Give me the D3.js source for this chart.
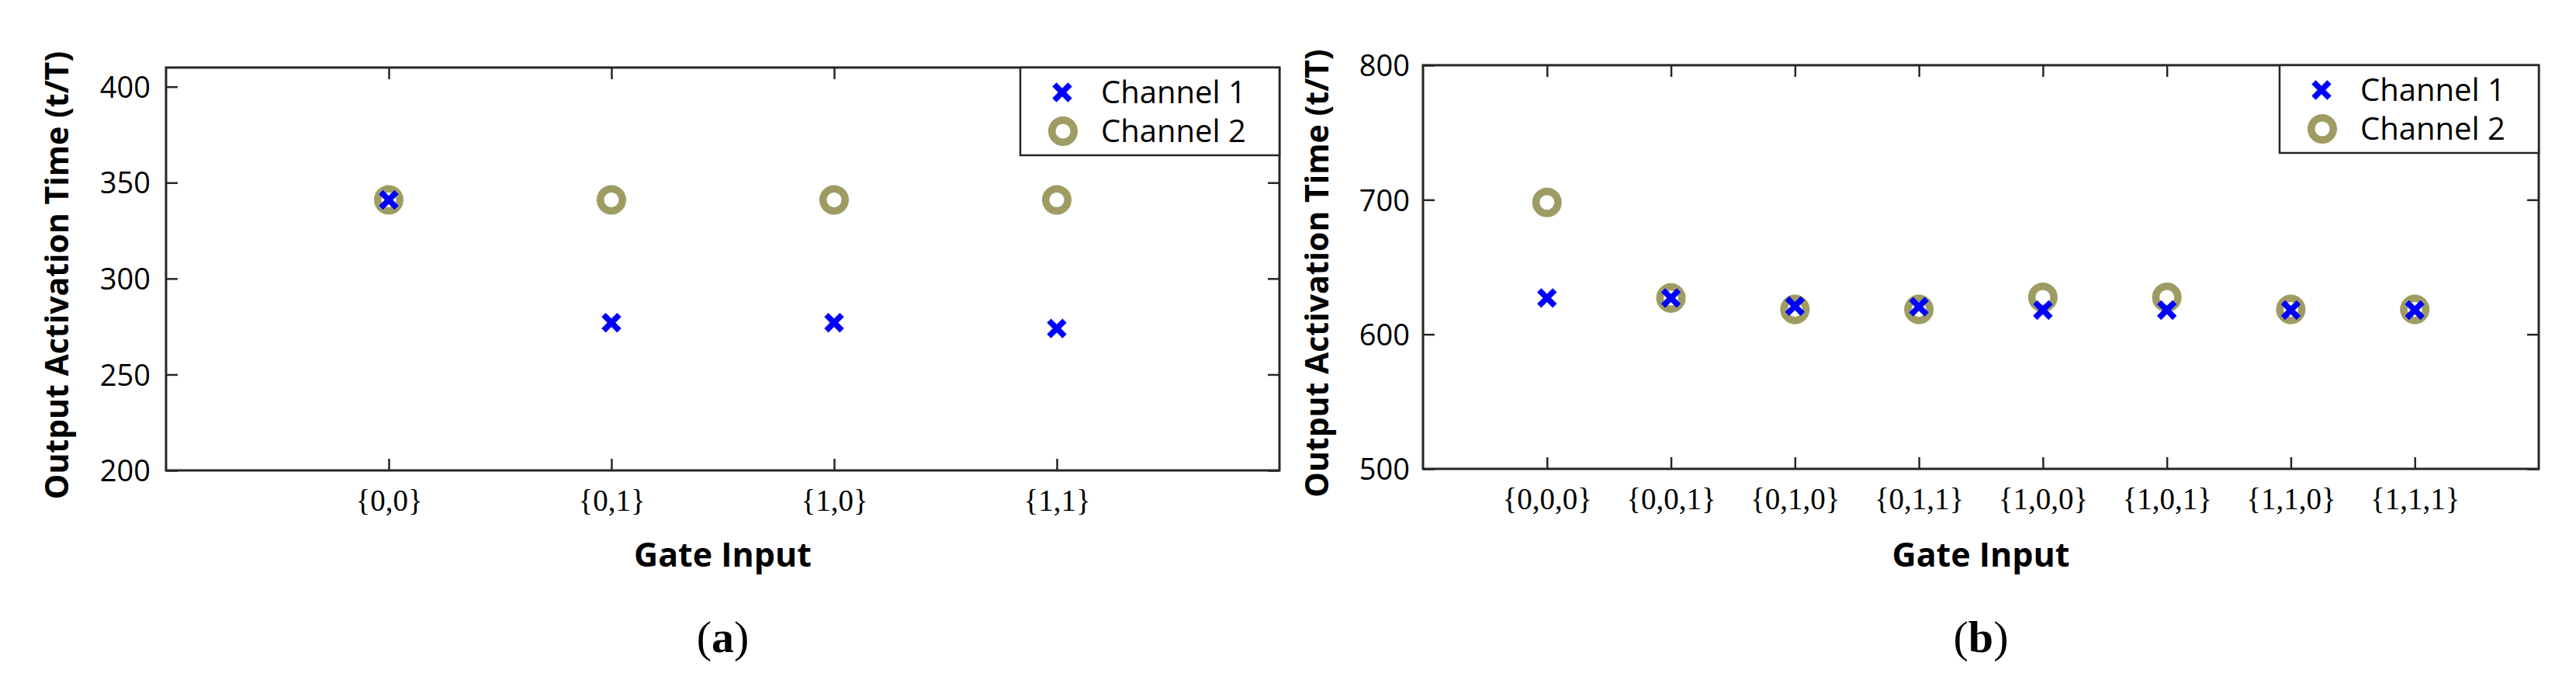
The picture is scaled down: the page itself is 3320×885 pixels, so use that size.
<!DOCTYPE html>
<html>
<head>
<meta charset="utf-8">
<script src="https://cdn.jsdelivr.net/npm/d3@7"></script>
<style>
  body { margin: 0; background: #fff; }
  text { fill: #000; }
</style>
</head>
<body>
<div id="chart"></div>
<script>
// panel (a): two-input gate
var catsA = ["{0,0}", "{0,1}", "{1,0}", "{1,1}"];
var ch1A = [341, 277, 277, 274];
var ch2A = [341, 341, 341, 341];
var ticksA = [200, 250, 300, 350, 400];

// panel (b): three-input gate
var catsB = ["{0,0,0}", "{0,0,1}", "{0,1,0}", "{0,1,1}", "{1,0,0}", "{1,0,1}", "{1,1,0}", "{1,1,1}"];
var ch1B = [627, 627, 621, 620.5, 618, 618, 618, 618];
var ch2B = [698, 627, 618.5, 618.5, 627.5, 627.5, 618.5, 618.5];
var ticksB = [500, 600, 700, 800];

var seriesNames = ["Channel 1", "Channel 2"];

var width = 3320, height = 885;
var axisColor = "#262626";
var blue = "#0000ff", olive = "#9f9c63";
var sans = "'Open Sans', 'Noto Sans', sans-serif";
var serif = "'Liberation Serif', 'DejaVu Serif', serif";

var svg = d3.select("#chart")
  .append("svg")
  .attr("width", width)
  .attr("height", height)
  .style("background", "#fff");

var crossSym = d3.symbol().type(d3.symbolTimes).size(265);
var circleSym = d3.symbol().type(d3.symbolCircle).size(640);

function drawCross(sel) {
  sel.attr("d", crossSym)
    .attr("fill", "none")
    .attr("stroke", blue)
    .attr("stroke-width", 7.5);
}
function drawCircle(sel) {
  sel.attr("d", circleSym)
    .attr("fill", "none")
    .attr("stroke", olive)
    .attr("stroke-width", 9.5);
}

function make_panel(p) {
  var g = svg.append("g");

  var x = d3.scalePoint()
    .domain(p.cats)
    .range([p.left, p.right])
    .padding(1);

  var y = d3.scaleLinear()
    .domain(p.yDomain)
    .range([p.bottom, p.top]);

  // ticks on all four sides, pointing inward
  var bottomAx = g.append("g")
    .attr("transform", "translate(0," + p.bottom + ")")
    .call(d3.axisBottom(x).tickSizeInner(-15).tickSizeOuter(0));
  bottomAx.selectAll("text")
    .attr("y", 52).attr("dy", 0)
    .style("font-family", serif)
    .style("font-size", "39px");

  g.append("g")
    .attr("transform", "translate(0," + p.top + ")")
    .call(d3.axisTop(x).tickSizeInner(-15).tickSizeOuter(0).tickFormat(""));

  var leftAx = g.append("g")
    .attr("transform", "translate(" + p.left + ",0)")
    .call(d3.axisLeft(y).tickValues(p.ticks).tickSizeInner(-15).tickSizeOuter(0).tickFormat(d3.format("d")));
  leftAx.selectAll("text")
    .attr("x", -p.labelGap).attr("dy", "0.36em")
    .style("font-family", sans)
    .style("font-size", "38px");

  g.append("g")
    .attr("transform", "translate(" + p.right + ",0)")
    .call(d3.axisRight(y).tickValues(p.ticks).tickSizeInner(-15).tickSizeOuter(0).tickFormat(""));

  g.selectAll(".domain").remove();
  g.selectAll(".tick line").attr("stroke", axisColor).attr("stroke-width", 2.5);

  g.append("rect")
    .attr("x", p.left).attr("y", p.top)
    .attr("width", p.right - p.left).attr("height", p.bottom - p.top)
    .attr("fill", "none")
    .attr("stroke", axisColor)
    .attr("stroke-width", 3);

  // Channel 2 rings first so the blue crosses sit on top
  g.selectAll(".ch2")
    .data(p.ch2)
    .enter()
    .append("path")
    .attr("class", "ch2")
    .attr("transform", function(d, i) { return "translate(" + x(p.cats[i]) + "," + y(d) + ")"; })
    .call(drawCircle);

  g.selectAll(".ch1")
    .data(p.ch1)
    .enter()
    .append("path")
    .attr("class", "ch1")
    .attr("transform", function(d, i) { return "translate(" + x(p.cats[i]) + "," + y(d) + ")"; })
    .call(drawCross);

  // legend
  var lw = 334, lh = 113;
  var lg = g.append("g")
    .attr("transform", "translate(" + (p.right - lw) + "," + p.top + ")");
  lg.append("rect")
    .attr("width", lw).attr("height", lh)
    .attr("fill", "#fff")
    .attr("stroke", axisColor)
    .attr("stroke-width", 2.5);
  lg.append("path").attr("transform", "translate(54,32)").call(drawCross);
  lg.append("path").attr("transform", "translate(55,82)").call(drawCircle);
  lg.selectAll(".ltxt")
    .data(seriesNames)
    .enter()
    .append("text")
    .attr("class", "ltxt")
    .attr("x", 104)
    .attr("y", function(d, i) { return 46 + i * 50; })
    .style("font-family", sans)
    .style("font-size", "40px")
    .text(function(d) { return d; });

  // axis titles
  var cx = (p.left + p.right) / 2;
  g.append("text")
    .attr("x", cx).attr("y", 730)
    .attr("text-anchor", "middle")
    .style("font-family", sans)
    .style("font-size", "43px")
    .style("font-weight", "bold")
    .text("Gate Input");

  g.append("text")
    .attr("transform", "translate(" + p.yTitleX + "," + ((p.top + p.bottom) / 2 + 8) + ") rotate(-90)")
    .attr("text-anchor", "middle")
    .style("font-family", sans)
    .style("font-size", "41px")
    .style("font-weight", "bold")
    .text("Output Activation Time (t/T)");

  var cap = g.append("text")
    .attr("x", cx).attr("y", 840)
    .attr("text-anchor", "middle")
    .style("font-family", serif)
    .style("font-size", "58px");
  cap.append("tspan").text("(");
  cap.append("tspan").style("font-weight", "bold").text(p.tag);
  cap.append("tspan").text(")");
}

make_panel({
  cats: catsA, ch1: ch1A, ch2: ch2A, ticks: ticksA, yDomain: [200, 410],
  left: 214, right: 1649, top: 87, bottom: 606, labelGap: 20, yTitleX: 88, tag: "a"
});
make_panel({
  cats: catsB, ch1: ch1B, ch2: ch2B, ticks: ticksB, yDomain: [500, 800],
  left: 1834, right: 3272, top: 84, bottom: 604, labelGap: 17, yTitleX: 1712, tag: "b"
});
</script>
</body>
</html>
